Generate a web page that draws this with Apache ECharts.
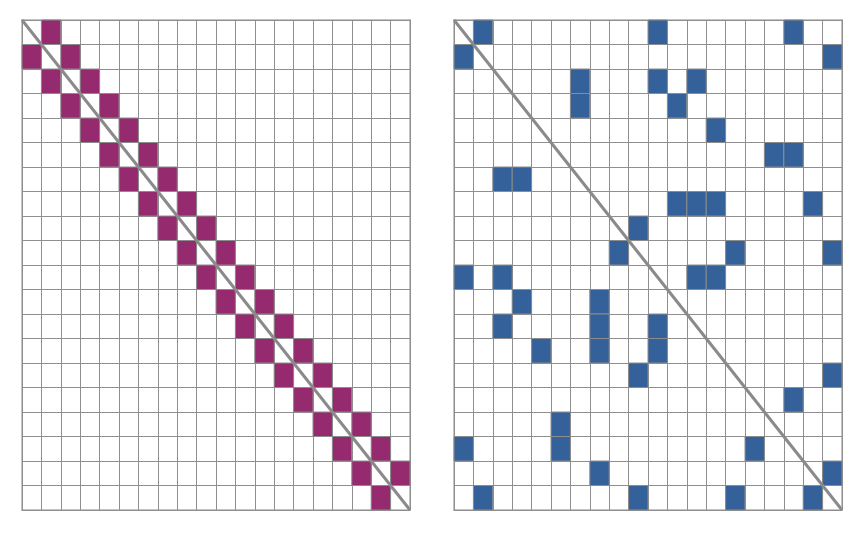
<!DOCTYPE html>
<html>
<head>
<meta charset="utf-8">
<script src="https://cdn.jsdelivr.net/npm/echarts@6/dist/echarts.min.js"></script>
<style>html,body{margin:0;padding:0;background:#fff;}#c{width:864px;height:533px;}</style>
</head>
<body>
<div id="c"></div>
<script>
// Matrix size
var N = 20;
// Left matrix: filled columns for each row
var leftRows = [
  [1],[0,2],[1,3],[2,4],[3,5],[4,6],[5,7],[6,8],[7,9],[8,10],
  [9,11],[10,12],[11,13],[12,14],[13,15],[14,16],[15,17],[16,18],[17,19],[18]
];
// Right matrix: filled columns for each row
var rightRows = [
  [1,10,17],[0,19],[6,10,12],[6,11],[13],[16,17],[2,3],[11,12,13,18],[9],[8,14,19],
  [0,2,12,13],[3,7],[2,7,10],[4,7,10],[9,19],[17],[5],[0,5,15],[7,19],[1,9,14,18]
];
var leftColor = '#952A6F';
var rightColor = '#34619A';

function toCells(rows){
  var out = [];
  rows.forEach(function(cols, r){ cols.forEach(function(c){ out.push([c, r]); }); });
  return out;
}

function renderCell(color){
  return function(params, api){
    var c = api.value(0), r = api.value(1);
    var p0 = api.coord([c, r]);
    var p1 = api.coord([c + 1, r + 1]);
    return {
      type: 'rect',
      shape: {x: Math.min(p0[0], p1[0]), y: Math.min(p0[1], p1[1]),
              width: Math.abs(p1[0] - p0[0]), height: Math.abs(p1[1] - p0[1])},
      style: {fill: color, stroke: '#8c8c8c', lineWidth: 1}
    };
  };
}

function axisX(i){
  return {type: 'value', gridIndex: i, min: 0, max: N, interval: 1,
    axisLine: {show: false}, axisTick: {show: false}, axisLabel: {show: false},
    splitLine: {show: true, lineStyle: {color: '#8f8f8f', width: 1}}};
}
function axisY(i){
  return {type: 'value', gridIndex: i, min: 0, max: N, interval: 1, inverse: true,
    axisLine: {show: false}, axisTick: {show: false}, axisLabel: {show: false},
    splitLine: {show: true, lineStyle: {color: '#8f8f8f', width: 1}}};
}

var chart = echarts.init(document.getElementById('c'), null, {renderer: 'canvas'});
chart.setOption({
  animation: false,
  backgroundColor: '#fff',
  grid: [
    {left: 22, top: 20, width: 388, height: 490, show: true, borderColor: '#c4c4c4', borderWidth: 2, backgroundColor: '#fff'},
    {left: 454, top: 20, width: 388, height: 490, show: true, borderColor: '#c4c4c4', borderWidth: 2, backgroundColor: '#fff'}
  ],
  xAxis: [axisX(0), axisX(1)],
  yAxis: [axisY(0), axisY(1)],
  series: [
    {type: 'custom', xAxisIndex: 0, yAxisIndex: 0, renderItem: renderCell(leftColor),
     data: toCells(leftRows), encode: {x: 0, y: 1}, clip: false},
    {type: 'custom', xAxisIndex: 1, yAxisIndex: 1, renderItem: renderCell(rightColor),
     data: toCells(rightRows), encode: {x: 0, y: 1}, clip: false},
    {type: 'line', xAxisIndex: 0, yAxisIndex: 0, data: [[0, 0], [N, N]], symbol: 'none',
     lineStyle: {color: '#8a8a8a', width: 3}, z: 5},
    {type: 'line', xAxisIndex: 1, yAxisIndex: 1, data: [[0, 0], [N, N]], symbol: 'none',
     lineStyle: {color: '#8a8a8a', width: 3}, z: 5}
  ]
});
</script>
</body>
</html>
